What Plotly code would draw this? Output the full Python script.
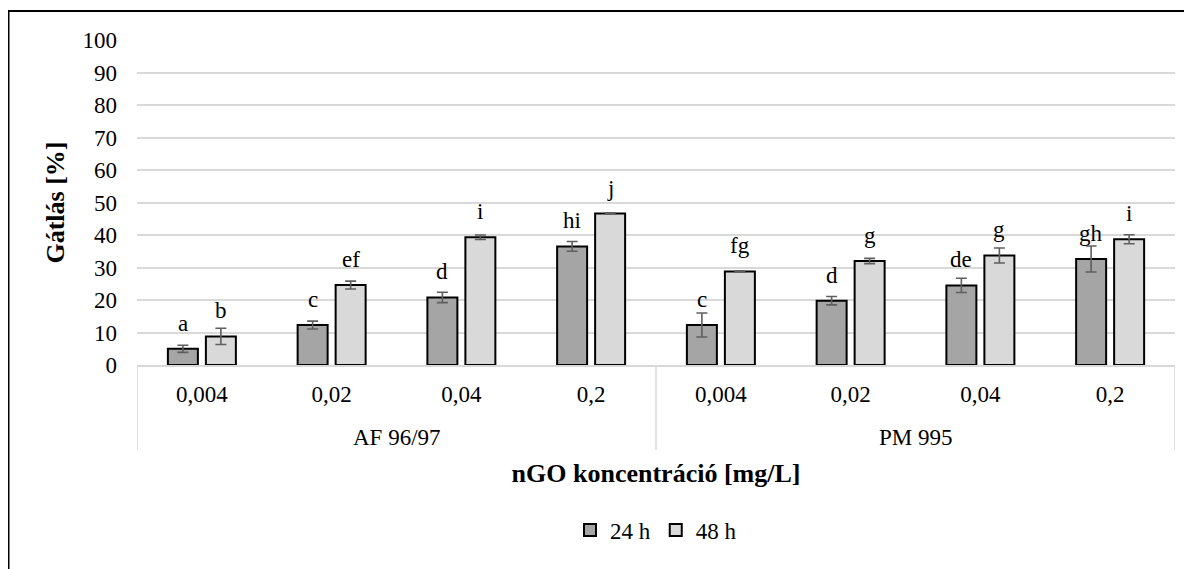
import plotly.graph_objects as go

# ---- data ----
groups = ["AF 96/97", "PM 995"]
concentrations = ["0,004", "0,02", "0,04", "0,2", "0,004", "0,02", "0,04", "0,2"]
series_names = ["24 h", "48 h"]

vals_24h = [5.0, 12.3, 20.8, 36.5, 12.3, 19.8, 24.5, 32.6]
err_24h = [1.1, 1.2, 1.6, 1.5, 3.7, 1.3, 2.2, 4.0]
letters_24h = ["a", "c", "d", "hi", "c", "d", "de", "gh"]

vals_48h = [8.8, 24.6, 39.3, 46.6, 28.8, 32.0, 33.7, 38.7]
err_48h = [2.5, 1.2, 0.7, 0.2, 0.2, 0.8, 2.3, 1.4]
letters_48h = ["b", "ef", "i", "j", "fg", "g", "g", "i"]

y_ticks = list(range(0, 101, 10))

# ---- layout constants (page pixels; the page body adds an 8px margin) ----
PAGE_OFF = 8
W, H = 1192 - PAGE_OFF, 569 - PAGE_OFF
PLOT_LEFT, PLOT_RIGHT, PLOT_TOP, PLOT_BOTTOM = 137, 1175, 40, 365
L = PLOT_LEFT - PAGE_OFF
T = PLOT_TOP - PAGE_OFF
R = W - (PLOT_RIGHT - PAGE_OFF)
B = H - (PLOT_BOTTOM - PAGE_OFF)
plot_w = PLOT_RIGHT - PLOT_LEFT
plot_h = PLOT_BOTTOM - PLOT_TOP
FONT = "Liberation Serif"
FS = 23
FS_TITLE = 26

n = len(concentrations)
xs = list(range(n))
unit_px = plot_w / n
bar_w = 30 / unit_px
off = 19 / unit_px


def py(pix):
    """page pixel row -> paper y"""
    return (PLOT_BOTTOM - pix) / plot_h


def px(pix):
    """page pixel column -> paper x"""
    return (pix - PLOT_LEFT) / plot_w


fig = go.Figure()
err_style = dict(type="data", visible=True, color="#5f5f5f", thickness=1.6, width=5.5)

fig.add_trace(go.Bar(
    name=series_names[0], x=xs, y=vals_24h,
    width=bar_w, offset=-off - bar_w / 2,
    marker=dict(color="#A5A5A5", line=dict(color="#000000", width=2)),
    error_y=dict(array=err_24h, **err_style),
))
fig.add_trace(go.Bar(
    name=series_names[1], x=xs, y=vals_48h,
    width=bar_w, offset=off - bar_w / 2,
    marker=dict(color="#D9D9D9", line=dict(color="#000000", width=2)),
    error_y=dict(array=err_48h, **err_style),
))

txtfont = dict(family=FONT, size=FS, color="#000")
titlefont = dict(family=FONT, size=FS_TITLE, color="#000")
annotations = []
for i in range(n):
    annotations.append(dict(x=xs[i] - off, y=vals_24h[i], xref="x", yref="y", text=letters_24h[i],
                            showarrow=False, yanchor="bottom", yshift=11, font=txtfont))
    annotations.append(dict(x=xs[i] + off, y=vals_48h[i], xref="x", yref="y", text=letters_48h[i],
                            showarrow=False, yanchor="bottom", yshift=11, font=txtfont))

per_group = n // len(groups)
for g, name in enumerate(groups):
    annotations.append(dict(x=g * per_group + (per_group - 1) / 2, y=py(437), xref="x", yref="paper",
                            text=name, showarrow=False, yanchor="middle", font=txtfont))

shapes = []
for g in range(len(groups) + 1):
    xv = g * per_group - 0.5
    shapes.append(dict(type="line", xref="x", yref="paper", x0=xv, x1=xv, y0=0, y1=py(450),
                       line=dict(color="#D9D9D9", width=1.5)))
# outer chart border
shapes.append(dict(type="rect", xref="paper", yref="paper",
                   x0=px(8.5), x1=px(1215), y0=py(600), y1=py(11),
                   line=dict(color="#000000", width=2), fillcolor="rgba(0,0,0,0)", layer="above"))

fig.update_layout(
    width=W, height=H, autosize=False,
    margin=dict(l=L, r=R, t=T, b=B, autoexpand=False),
    paper_bgcolor="white", plot_bgcolor="white",
    font=txtfont,
    barmode="overlay",
    showlegend=True,
    legend=dict(orientation="h", x=0.5, xanchor="center", y=py(530), yanchor="middle",
                font=txtfont, bgcolor="rgba(0,0,0,0)", itemwidth=30, tracegroupgap=0),
    annotations=annotations,
    shapes=shapes,
    xaxis=dict(
        range=[-0.5, n - 0.5], tickmode="array", tickvals=xs, ticktext=concentrations,
        showgrid=False, zeroline=False, showline=True, linecolor="#D9D9D9", linewidth=1.5,
        ticks="", ticklabelstandoff=8, fixedrange=True, tickfont=txtfont,
        title=dict(text="<b>nGO koncentráció [mg/L]</b>", standoff=57, font=titlefont),
    ),
    yaxis=dict(
        range=[0, 100], tickmode="array", tickvals=y_ticks,
        showgrid=True, gridcolor="#D9D9D9", gridwidth=1.5, zeroline=False, showline=False,
        ticks="", ticklabelstandoff=19, fixedrange=True, tickfont=txtfont,
        title=dict(text="<b>Gátlás [%]</b>", standoff=10, font=titlefont),
    ),
)

fig.write_html("out.html")
